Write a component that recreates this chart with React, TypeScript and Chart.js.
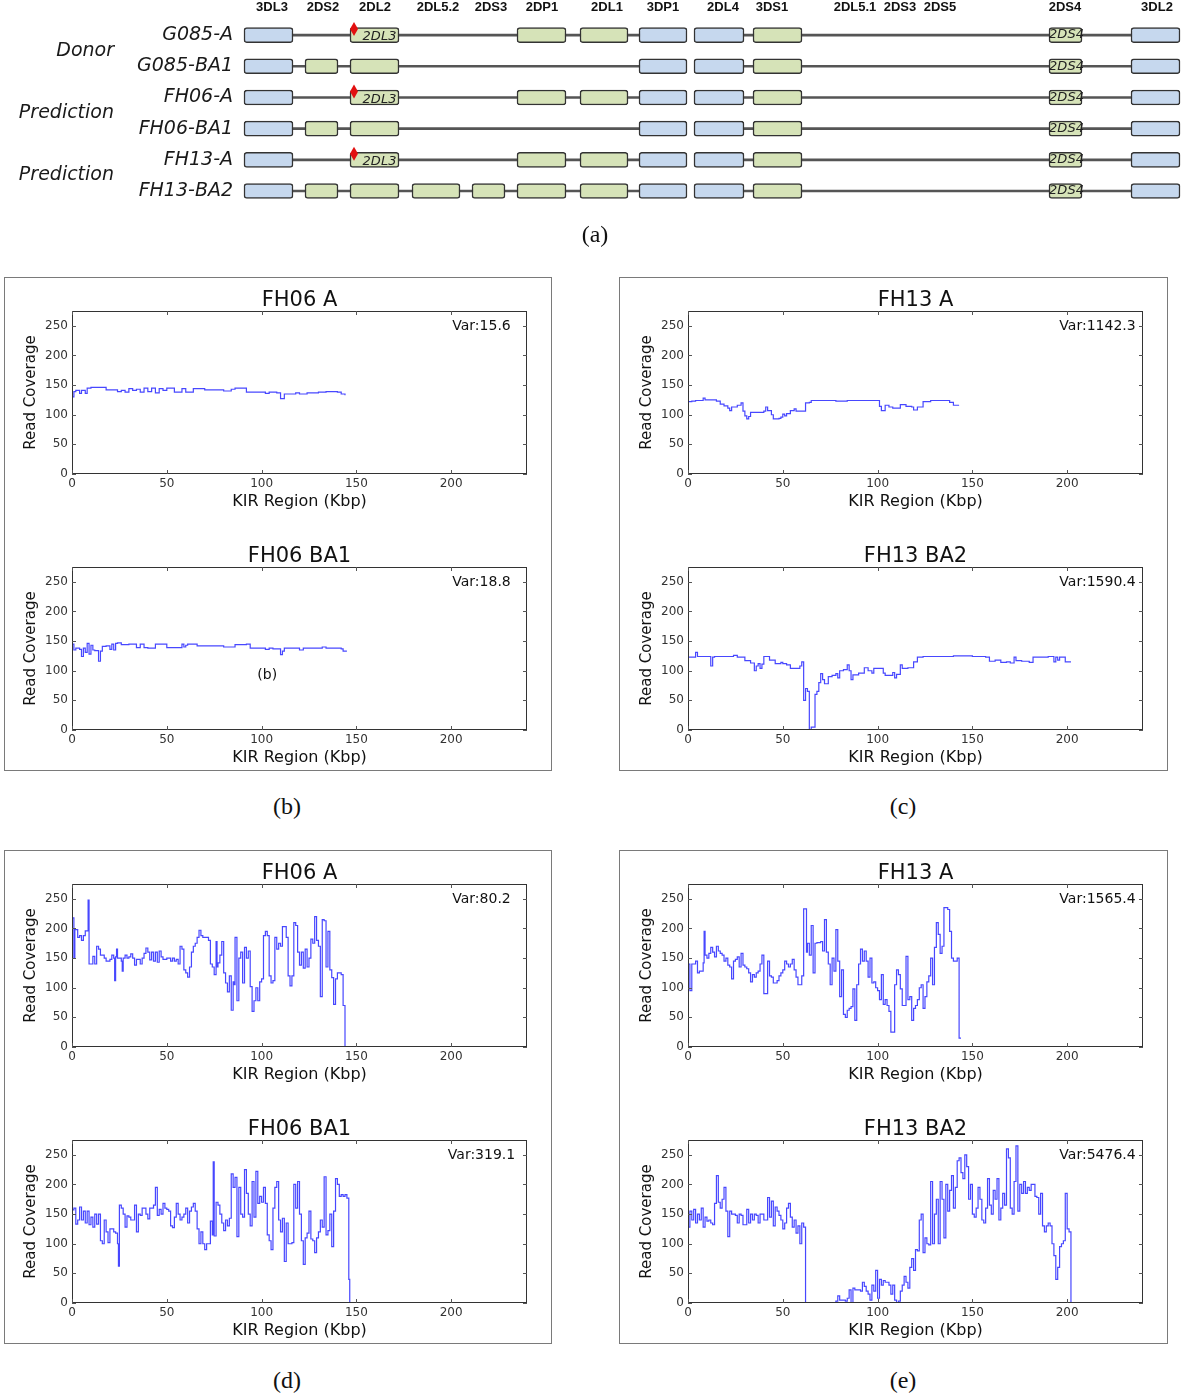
import React, { useEffect, useRef } from 'react';
import { Chart, registerables } from 'chart.js';
Chart.register(...registerables);
Chart.defaults.font.family = 'DejaVu Sans';

// ---------------- Panel (a): KIR haplotype structure ----------------
const rowLabels = ['G085-A', 'G085-BA1', 'FH06-A', 'FH06-BA1', 'FH13-A', 'FH13-BA2'];
const groupLabels = ['Donor', 'Prediction', 'Prediction'];
const headerLabels = ['3DL3', '2DS2', '2DL2', '2DL5.2', '2DS3', '2DP1', '2DL1', '3DP1', '2DL4', '3DS1', '2DL5.1', '2DS3', '2DS5', '2DS4', '3DL2'];
const headerPos = [32, 83, 135, 198, 251, 302, 367, 423, 483, 532, 615, 660, 700, 825, 917];
const geneNames = ['3DL3', '2DS2', '2DL2', '2DL5.2', '2DS3', '2DP1', '2DL1', '3DP1', '2DL4', '3DS1', '2DS4', '3DL2'];
const geneStart = [4, 65, 110, 172, 232, 277, 340, 399, 454, 513, 809, 891];
const geneEnd = [53, 98, 159, 220, 265, 326, 388, 447, 504, 562, 842, 940];
const geneFramework = [1, 0, 0, 0, 0, 0, 0, 1, 1, 0, 0, 1];
const haploA = [1, 0, 1, 0, 0, 1, 1, 1, 1, 1, 1, 1];
const haploBA1 = [1, 1, 1, 0, 0, 0, 0, 1, 1, 1, 1, 1];
const haploBA2 = [1, 1, 1, 1, 1, 1, 1, 1, 1, 1, 1, 1];
const rowGenes = [haploA, haploBA1, haploA, haploBA1, haploA, haploBA2];
const row2DL3 = [1, 0, 1, 0, 1, 0];

// ---------------- Coverage series [Kbp, read coverage] ----------------
const b_FH06_A: number[][] = [[0,130],[1,139],[2,141],[4,136],[5,141],[7,136],[8,145],[10,146],[18,142],[24,139],[26,141],[28,138],[30,144],[32,141],[34,143],[36,138],[38,145],[40,139],[42,145],[44,137],[46,144],[48,141],[50,145],[54,138],[58,144],[60,138],[64,144],[70,142],[80,140],[84,143],[86,145],[92,138],[100,138],[102,136],[104,138],[108,137],[110,127],[112,135],[118,137],[120,135],[124,137],[130,138],[134,139],[140,138],[142,135],[144,133]];
const b_FH06_BA1: number[][] = [[0,145],[1,135],[2,138],[4,136],[5,124],[6,138],[7,131],[8,146],[9,128],[10,143],[11,135],[12,134],[14,116],[15,133],[16,141],[18,142],[20,136],[21,145],[22,135],[23,146],[24,147],[26,144],[30,145],[34,139],[36,145],[38,139],[40,138],[44,145],[50,139],[58,145],[59,140],[60,143],[61,145],[66,142],[80,140],[86,144],[92,145],[94,138],[102,136],[104,138],[106,137],[110,127],[111,133],[112,138],[120,135],[122,138],[132,140],[134,138],[142,137],[143,133],[145,133]];
const c_FH13_A: number[][] = [[0,122],[2,123],[4,124],[8,128],[9,125],[15,123],[17,118],[19,115],[21,111],[22,107],[23,113],[26,116],[28,120],[29,106],[30,98],[31,93],[32,97],[33,104],[40,106],[41,113],[42,107],[44,100],[45,93],[48,94],[49,96],[50,101],[51,98],[52,102],[54,107],[56,110],[57,106],[62,120],[64,121],[65,124],[78,123],[84,124],[101,114],[102,107],[104,116],[106,113],[108,111],[112,117],[115,114],[118,113],[119,108],[121,113],[124,122],[128,124],[138,121],[140,116],[143,116]];
const c_FH13_BA2: number[][] = [[0,123],[4,131],[5,124],[12,108],[13,123],[14,124],[24,126],[26,123],[30,117],[33,113],[35,100],[36,108],[37,112],[38,104],[39,111],[40,124],[43,118],[46,112],[49,114],[50,112],[52,110],[54,104],[59,108],[60,115],[61,50],[62,70],[63,65],[64,0],[65,5],[67,60],[68,65],[69,80],[70,95],[71,85],[72,78],[74,90],[76,92],[78,95],[79,88],[80,100],[82,102],[84,110],[85,100],[86,85],[87,93],[90,96],[93,105],[95,100],[97,96],[98,104],[103,96],[104,92],[108,97],[109,88],[110,94],[112,110],[113,104],[116,105],[119,115],[121,123],[124,124],[140,125],[150,124],[157,123],[159,116],[162,118],[165,114],[168,115],[170,113],[172,123],[173,117],[176,116],[180,114],[182,123],[190,124],[193,115],[194,123],[195,118],[196,123],[199,115],[202,115]];
const d_FH06_A: number[][] = [[0,218],[1,150],[1.5,198],[3,185],[4,188],[5,180],[6,188],[7,196],[8.5,248],[9,140],[11,153],[12,140],[13,170],[14,165],[15,155],[17,150],[18,145],[20,148],[21,155],[22,150],[22.5,112],[23,152],[23.5,165],[24,150],[26,145],[26.5,128],[27,150],[28,155],[29,150],[30,152],[31,157],[32,150],[33,138],[34,148],[36,140],[37,150],[38,158],[39,167],[40,160],[41,147],[42,160],[43,145],[44,160],[45,143],[46,162],[47,152],[48,148],[50,150],[52,145],[53,150],[54,145],[55,148],[56,140],[57,170],[58,165],[59,130],[60,125],[61,118],[62,135],[63,160],[64,170],[65,175],[66,185],[67,197],[68,188],[69,185],[72,180],[73,140],[74,135],[75,122],[76,178],[76.5,135],[77,142],[78,155],[79,178],[80,125],[81,108],[82,93],[83,120],[84,62],[85,110],[85.5,105],[86,185],[87,78],[88,150],[89,160],[90,108],[91,168],[92,150],[93,162],[94,102],[95,60],[96,78],[97,100],[98,78],[99,110],[100,115],[101,188],[102,195],[103,188],[104,120],[105,108],[106,112],[107,185],[108,165],[109,175],[110,170],[111,203],[113,185],[114,120],[115,103],[116,120],[117,210],[118,205],[119,160],[120,138],[121,160],[122,133],[123,165],[124,135],[125,150],[126,182],[127,175],[128,220],[129,180],[130,170],[131,85],[132,215],[133,213],[134,135],[135,195],[136,130],[137,117],[138,72],[139,115],[140,125],[142,122],[143,70],[144,0]];
const d_FH06_BA1: number[][] = [[0,157],[1,160],[2,133],[3,140],[4,162],[5,140],[6,155],[7,135],[8,155],[9,132],[10,145],[11,128],[12,150],[13,133],[14,150],[15,105],[16,100],[17,140],[18,120],[19,102],[20,125],[22,120],[23,118],[24,100],[24.5,62],[25,165],[26,160],[27,150],[28,128],[29,147],[30,145],[31,140],[33,165],[34,120],[35,150],[36,148],[37,160],[39,150],[40,142],[41,160],[43,165],[44,195],[45,148],[46,158],[47,150],[48,168],[49,160],[50,158],[51,155],[52,130],[53,127],[54,145],[55,168],[56,150],[57,140],[58,145],[59,150],[60,160],[61,135],[62,155],[63,162],[64,168],[65,155],[66,125],[67,100],[68,120],[69,100],[70,90],[71,100],[73,138],[74,115],[74.5,238],[75,113],[76,170],[77,165],[78,150],[79,135],[80,122],[81,140],[82,130],[83,143],[84,218],[85,195],[86,212],[87,112],[88,195],[89,150],[90,145],[91,225],[92,185],[93,150],[94,130],[95,205],[96,145],[97,222],[98,168],[99,180],[100,170],[101,195],[102,168],[103,115],[104,105],[105,90],[106,160],[107,195],[108,205],[109,140],[110,120],[111,143],[112,70],[113,135],[114,100],[116,102],[117,200],[118,160],[119,205],[120,150],[121,105],[122,65],[123,110],[124,118],[125,155],[126,108],[127,105],[128,85],[129,110],[130,120],[131,140],[132,128],[133,213],[134,115],[135,122],[136,150],[137,95],[138,155],[139,210],[140,200],[141,180],[142,183],[143,180],[144,183],[145,177],[146,40],[146.5,0]];
const e_FH13_A: number[][] = [[0,140],[1,95],[2,140],[4,145],[5,125],[6,128],[8,142],[8.5,195],[9,155],[10,150],[11,158],[12,168],[13,160],[14,152],[15,170],[16,162],[17,158],[18,155],[19,145],[20,150],[21,138],[22,135],[23,115],[24,145],[25,148],[26,152],[27,135],[28,158],[29,138],[30,135],[31,132],[32,125],[33,110],[34,122],[35,118],[36,125],[37,128],[38,140],[39,155],[40,90],[42,145],[43,120],[44,118],[45,108],[47,112],[48,120],[49,125],[50,130],[51,145],[52,140],[53,135],[54,140],[55,148],[56,130],[57,118],[58,105],[60,120],[61,233],[62.5,160],[63,175],[64,155],[65,205],[66,125],[67,175],[68,176],[70,178],[71,162],[72,215],[73,160],[74,140],[75,105],[76,150],[77,128],[78,198],[79,145],[80,85],[81,130],[82,55],[83,50],[84,62],[85,65],[86,68],[87,98],[88,45],[89,105],[90,140],[91,165],[92,145],[93,162],[94,145],[95,118],[96,150],[97,108],[98,110],[99,100],[100,95],[101,80],[102,122],[103,72],[104,80],[105,70],[106,60],[107,25],[109,105],[110,130],[111,122],[112,98],[113,70],[115,153],[116,80],[117,85],[118,45],[119,65],[120,70],[121,80],[122,100],[123,105],[124,65],[125,85],[126,110],[127,120],[128,150],[129,105],[130,168],[131,210],[132,190],[133,158],[134,170],[135,235],[137,232],[138,195],[139,150],[140,145],[142,150],[143,15],[144,15]];
const e_FH13_BA2: number[][] = [[0,128],[1,155],[2,140],[3,158],[4,135],[5,150],[6,140],[7,160],[8,128],[9,145],[10,138],[11,140],[12,135],[13,132],[14,168],[15,215],[16,170],[17,160],[18,175],[19,195],[20,155],[21,112],[22,155],[23,150],[25,148],[26,135],[27,150],[28,148],[29,132],[31,158],[32,135],[33,150],[34,140],[35,150],[36,148],[37,135],[38,150],[40,140],[42,178],[43,145],[44,172],[45,130],[46,162],[47,155],[48,148],[49,140],[50,125],[51,135],[52,160],[53,168],[54,145],[55,128],[56,140],[57,118],[58,130],[59,100],[60,135],[61,128],[62,0],[78,3],[79,12],[80,5],[83,3],[84,8],[85,22],[86,0],[87,25],[88,22],[91,20],[92,35],[93,28],[94,20],[95,15],[96,5],[97,30],[98,20],[99,55],[100,8],[101,40],[102,30],[103,38],[104,35],[106,30],[107,15],[108,30],[109,5],[110,0],[111,3],[112,20],[113,30],[114,45],[115,35],[116,25],[117,60],[118,75],[119,55],[120,90],[121,88],[122,140],[123,150],[124,85],[125,110],[126,100],[127,98],[128,205],[129,100],[130,150],[131,175],[132,100],[133,205],[134,175],[135,110],[136,200],[137,155],[138,190],[139,215],[140,160],[141,195],[142,240],[143,245],[144,220],[145,210],[146,250],[147,230],[148,175],[149,200],[150,150],[151,145],[152,160],[153,195],[154,175],[155,140],[156,135],[157,160],[158,210],[159,165],[160,150],[161,190],[162,175],[163,210],[164,140],[165,160],[166,185],[167,165],[168,260],[169,245],[170,160],[171,150],[172,205],[173,265],[174,155],[175,200],[176,185],[177,205],[178,185],[179,195],[180,190],[181,200],[183,180],[184,178],[185,150],[186,185],[187,130],[188,120],[189,130],[190,135],[191,130],[192,100],[193,80],[194,40],[195,60],[196,95],[197,100],[198,105],[199,185],[200,125],[201,120],[202,0]];

const X_MAX = 240;
const Y_MAX = 275;
const LINE = 'rgba(25,25,255,0.8)';

const PW = 455, PH = 163, PL = 68, PT = 34, PR = 20, PB = 40;

function Coverage(props: { series: number[][]; title: string; varText: string; note?: string; left: number; top: number }) {
  const ref = useRef<HTMLCanvasElement>(null);
  useEffect(() => {
    const { title, varText, note } = props;
    const plugin = {
      id: 'mpl',
      afterDraw(chart: any) {
        const { ctx, chartArea: a, scales } = chart;
        const xs = scales.x, ys = scales.y;
        ctx.save();
        ctx.strokeStyle = '#333';
        ctx.lineWidth = 1;
        ctx.strokeRect(a.left + 0.5, a.top + 0.5, a.right - a.left - 1, a.bottom - a.top - 1);
        ctx.strokeStyle = '#555';
        ctx.beginPath();
        xs.ticks.forEach((t: any) => {
          const p = Math.round(xs.getPixelForValue(t.value)) + 0.5;
          ctx.moveTo(p, a.bottom); ctx.lineTo(p, a.bottom - 4);
          ctx.moveTo(p, a.top); ctx.lineTo(p, a.top + 4);
        });
        ys.ticks.forEach((t: any) => {
          const p = Math.round(ys.getPixelForValue(t.value)) + 0.5;
          ctx.moveTo(a.left, p); ctx.lineTo(a.left + 4, p);
          ctx.moveTo(a.right, p); ctx.lineTo(a.right - 4, p);
        });
        ctx.stroke();
        ctx.fillStyle = '#111';
        ctx.textAlign = 'center';
        ctx.textBaseline = 'middle';
        ctx.font = '21px "DejaVu Sans"';
        ctx.fillText(title, (a.left + a.right) / 2, a.top - 10);
        ctx.font = '16px "DejaVu Sans"';
        ctx.fillText('KIR Region (Kbp)', (a.left + a.right) / 2, a.bottom + 28);
        ctx.font = '15px "DejaVu Sans"';
        ctx.save();
        ctx.translate(a.left - 41, (a.top + a.bottom) / 2);
        ctx.rotate(-Math.PI / 2);
        ctx.fillText('Read Coverage', 0, 0);
        ctx.restore();
        ctx.font = '14px "DejaVu Sans"';
        ctx.fillText(varText, xs.getPixelForValue(216), ys.getPixelForValue(250) + 1);
        if (note) ctx.fillText(note, xs.getPixelForValue(103), ys.getPixelForValue(93));
        ctx.restore();
      },
    };
    const chart = new Chart(ref.current as HTMLCanvasElement, {
      type: 'line',
      data: {
        datasets: [{
          data: props.series.map(([x, y]) => ({ x, y })),
          borderColor: LINE,
          borderWidth: 1.2,
          pointRadius: 0,
          stepped: true,
          fill: false,
        }],
      },
      options: {
        responsive: false,
        animation: false,
        layout: { padding: { left: 0, top: PT, right: PR, bottom: PB - 22 } },
        plugins: { legend: { display: false }, tooltip: { enabled: false } },
        scales: {
          x: {
            type: 'linear', min: 0, max: X_MAX,
            grid: { display: false, drawTicks: false },
            border: { display: false },
            afterFit: (s: any) => { s.height = 22; },
            ticks: { stepSize: 50, includeBounds: false, padding: 3, maxRotation: 0, color: '#333', font: { size: 12 } },
          },
          y: {
            type: 'linear', min: 0, max: Y_MAX,
            grid: { display: false, drawTicks: false },
            border: { display: false },
            afterFit: (s: any) => { s.width = PL; },
            ticks: { stepSize: 50, includeBounds: false, padding: 4, color: '#333', font: { size: 12 } },
          },
        },
      } as any,
      plugins: [plugin],
    });
    return () => chart.destroy();
  }, []);
  const W = PL + PW + PR, H = PT + PH + PB;
  return (
    <canvas ref={ref} width={W} height={H}
      style={{ position: 'absolute', left: props.left - PL, top: props.top - PT, width: W, height: H }} />
  );
}

function Diagram() {
  const ref = useRef<HTMLCanvasElement>(null);
  useEffect(() => {
    const mid = (g: number) => (geneStart[g] + geneEnd[g]) / 2;
    const gi = (n: string) => geneNames.indexOf(n);
    const lineSets = [
      [mid(gi('3DL3')), mid(gi('3DP1'))],
      [mid(gi('2DL4')), mid(gi('3DL2'))],
    ].map((seg) => ({
      label: 'link',
      data: rowLabels.map(() => seg),
      backgroundColor: '#555',
      borderWidth: 0,
      barThickness: 2,
      grouped: false,
      order: 2,
    }));
    const geneSets = geneNames.map((name, g) => ({
      label: name,
      data: rowGenes.map((r) => (r[g] ? [geneStart[g], geneEnd[g]] : null)),
      backgroundColor: geneFramework[g] ? '#c6d8ee' : '#d6e3b8',
      borderColor: '#333',
      borderWidth: 1.5,
      borderRadius: 3,
      borderSkipped: false,
      barThickness: 15,
      grouped: false,
      order: 1,
    }));
    const plugin = {
      id: 'kirText',
      afterDatasetsDraw(chart: any) {
        const { ctx, chartArea: a, scales } = chart;
        const xs = scales.x, ys = scales.y;
        ctx.save();
        ctx.fillStyle = '#1a1a1a';
        ctx.font = 'italic 19px "DejaVu Sans"';
        ctx.textAlign = 'right';
        ctx.textBaseline = 'middle';
        groupLabels.forEach((g, i) => {
          const y = (ys.getPixelForValue(2 * i) + ys.getPixelForValue(2 * i + 1)) / 2;
          ctx.fillText(g, a.left - 126, y);
        });
        ctx.font = 'italic 13px "DejaVu Sans"';
        ctx.textAlign = 'center';
        const k2 = gi('2DL2'), k4 = gi('2DS4');
        rowLabels.forEach((_, r) => {
          const y = ys.getPixelForValue(r);
          if (rowGenes[r][k4]) {
            ctx.fillStyle = '#222';
            ctx.fillText('2DS4', xs.getPixelForValue(mid(k4)) + 1, y);
          }
          if (row2DL3[r]) {
            ctx.fillStyle = '#222';
            ctx.fillText('2DL3', xs.getPixelForValue(mid(k2)) + 5, y + 2);
            const dx = xs.getPixelForValue(geneStart[k2]) + 4;
            const dy = y - 6;
            ctx.fillStyle = '#e21010';
            ctx.beginPath();
            ctx.moveTo(dx, dy - 7);
            ctx.lineTo(dx + 4, dy);
            ctx.lineTo(dx, dy + 7);
            ctx.lineTo(dx - 4, dy);
            ctx.closePath();
            ctx.fill();
          }
        });
        ctx.restore();
      },
    };
    const chart = new Chart(ref.current as HTMLCanvasElement, {
      type: 'bar',
      data: { labels: rowLabels, datasets: [...lineSets, ...geneSets] as any },
      options: {
        indexAxis: 'y',
        responsive: false,
        animation: false,
        layout: { padding: { left: 0, right: 0, top: 0, bottom: 9 } },
        plugins: { legend: { display: false }, tooltip: { enabled: false } },
        scales: {
          x: {
            type: 'linear', position: 'top', min: 0, max: 960,
            grid: { display: false, drawTicks: false },
            border: { display: false },
            afterBuildTicks: (s: any) => { s.ticks = headerPos.map((v) => ({ value: v })); },
            afterFit: (s: any) => { s.height = 19.5; },
            ticks: {
              autoSkip: false, maxRotation: 0, padding: 4, color: '#111',
              font: { family: 'Liberation Sans', weight: 'bold', size: 13 },
              callback: (_v: any, i: number) => headerLabels[i],
            },
          },
          y: {
            type: 'category',
            grid: { display: false, drawTicks: false },
            border: { display: false },
            afterFit: (s: any) => { s.width = 240; },
            ticks: { padding: 7, color: '#1a1a1a', font: { family: 'DejaVu Sans', style: 'italic', size: 19 } },
          },
        },
      } as any,
      plugins: [plugin],
    });
    return () => chart.destroy();
  }, []);
  return <canvas ref={ref} width={1200} height={225} style={{ position: 'absolute', left: 0, top: 0, width: 1200, height: 225 }} />;
}

function Caption(props: { text: string; cx: number; cy: number }) {
  return (
    <div style={{
      position: 'absolute', left: props.cx - 40, top: props.cy - 15, width: 80, height: 30,
      textAlign: 'center', lineHeight: '30px', fontFamily: '"Liberation Serif", serif', fontSize: 24, color: '#111',
    }}>{props.text}</div>
  );
}

function Frame(props: { left: number; top: number; right: number; bottom: number }) {
  return (
    <div style={{
      position: 'absolute', left: props.left, top: props.top,
      width: props.right - props.left, height: props.bottom - props.top,
      border: '1px solid #7a7a7a', boxSizing: 'border-box',
    }} />
  );
}

export default function App() {
  const LX = 72, RX = 688;
  return (
    <div style={{ position: 'absolute', left: 0, top: 0, width: 1200, height: 1394, background: '#fff', overflow: 'hidden' }}>
      <Diagram />
      <Caption text="(a)" cx={595} cy={234} />
      <Frame left={4} top={277} right={552} bottom={771} />
      <Frame left={619} top={277} right={1168} bottom={771} />
      <Frame left={4} top={850} right={552} bottom={1344} />
      <Frame left={619} top={850} right={1168} bottom={1344} />
      <Coverage series={b_FH06_A} title="FH06 A" varText="Var:15.6" left={LX} top={311} />
      <Coverage series={b_FH06_BA1} title="FH06 BA1" varText="Var:18.8" note="(b)" left={LX} top={567} />
      <Coverage series={c_FH13_A} title="FH13 A" varText="Var:1142.3" left={RX} top={311} />
      <Coverage series={c_FH13_BA2} title="FH13 BA2" varText="Var:1590.4" left={RX} top={567} />
      <Coverage series={d_FH06_A} title="FH06 A" varText="Var:80.2" left={LX} top={884} />
      <Coverage series={d_FH06_BA1} title="FH06 BA1" varText="Var:319.1" left={LX} top={1140} />
      <Coverage series={e_FH13_A} title="FH13 A" varText="Var:1565.4" left={RX} top={884} />
      <Coverage series={e_FH13_BA2} title="FH13 BA2" varText="Var:5476.4" left={RX} top={1140} />
      <Caption text="(b)" cx={287} cy={806} />
      <Caption text="(c)" cx={903} cy={806} />
      <Caption text="(d)" cx={287} cy={1380} />
      <Caption text="(e)" cx={903} cy={1380} />
    </div>
  );
}
